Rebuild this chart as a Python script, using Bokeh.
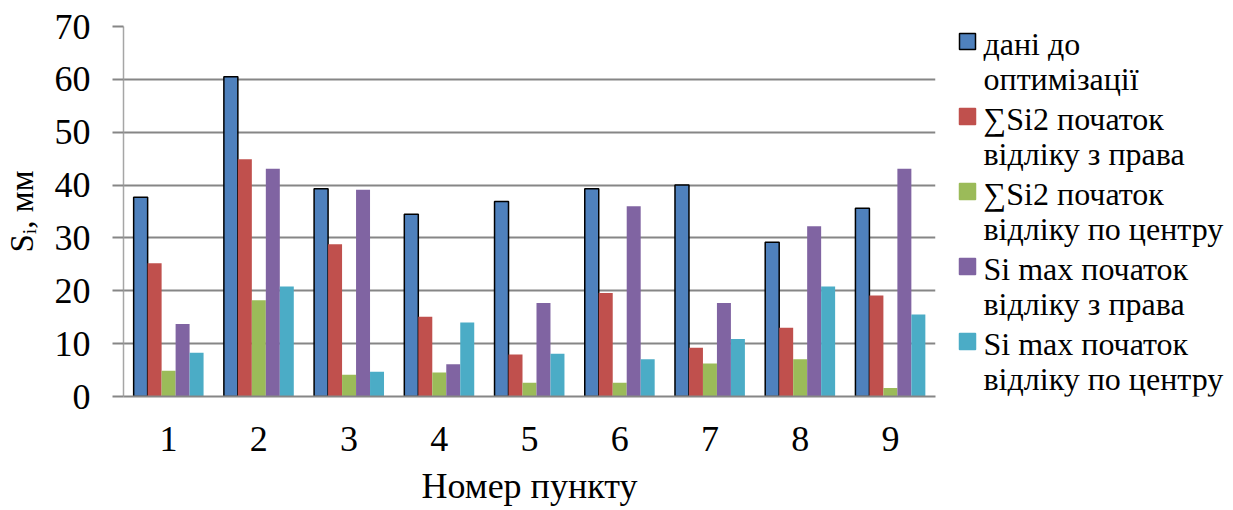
from bokeh.plotting import figure
from bokeh.models import Range1d, FixedTicker, ColumnDataSource
from bokeh.layouts import row
from bokeh.embed import file_html
from bokeh.resources import INLINE
from bokeh.core.properties import value

# ---- data ----
categories = ["1", "2", "3", "4", "5", "6", "7", "8", "9"]
before_opt = [37.7, 60.5, 39.3, 34.5, 36.9, 39.3, 40.0, 29.2, 35.6]
sum_right = [25.2, 44.9, 28.8, 15.1, 7.95, 19.6, 9.2, 13.0, 19.1]
sum_center = [4.86, 18.2, 4.1, 4.55, 2.6, 2.6, 6.25, 7.07, 1.6]
max_right = [13.7, 43.1, 39.1, 6.1, 17.7, 36.0, 17.7, 32.2, 43.1]
max_center = [8.27, 20.8, 4.67, 14.0, 8.1, 7.07, 10.9, 20.8, 15.5]
series_values = [before_opt, sum_right, sum_center, max_right, max_center]
series_labels = [
    ["дані до", "оптимізації"],
    ["∑Si2 початок", "відліку з права"],
    ["∑Si2 початок", "відліку по центру"],
    ["Si max початок", "відліку з права"],
    ["Si max початок", "відліку по центру"],
]
colors = ["#4F81BD", "#C0504D", "#9BBB59", "#8064A2", "#4BACC6"]
y_ticks = [0, 10, 20, 30, 40, 50, 60, 70]
x_title = "Номер пункту"
y_title = "Sᵢ, мм"

FONT = "Liberation Serif"
GRID = "#868686"

positions = [i + 1 for i in range(len(categories))]
bw = 0.155

p = figure(width=948, height=510, x_range=Range1d(0.5, 9.5), y_range=Range1d(0, 70),
           toolbar_location=None, output_backend="svg",
           min_border_left=123, min_border_right=13, min_border_top=26, min_border_bottom=114)
p.outline_line_color = None
p.xgrid.visible = False
p.ygrid.grid_line_color = GRID
p.ygrid.grid_line_width = 2

for k, (vals, col) in enumerate(zip(series_values, colors)):
    xs = [c + (k - 2) * bw for c in positions]
    src = ColumnDataSource(dict(x=xs, top=vals))
    if k == 0:
        p.vbar(x="x", top="top", width=bw, bottom=0, source=src, fill_color=col,
               line_color="black", line_width=1.5)
    else:
        p.vbar(x="x", top="top", width=bw, bottom=0, source=src, fill_color=col,
               line_color=None)

# y axis
p.yaxis.ticker = FixedTicker(ticks=y_ticks)
p.yaxis.minor_tick_line_color = None
p.yaxis.major_tick_out = 11
p.yaxis.major_tick_in = 0
p.yaxis.major_tick_line_color = GRID
p.yaxis.major_tick_line_width = 2
p.yaxis.axis_line_color = "#A6A6A6"
p.yaxis.axis_line_width = 1.5
p.yaxis.major_label_text_font = FONT
p.yaxis.major_label_text_font_size = "36px"
p.yaxis.major_label_text_color = "black"
p.yaxis.major_label_standoff = 22
p.yaxis.axis_label = y_title
p.yaxis.axis_label_text_font = FONT
p.yaxis.axis_label_text_font_size = "33px"
p.yaxis.axis_label_text_font_style = "normal"
p.yaxis.axis_label_text_color = "black"
p.yaxis.axis_label_standoff = 12

# x axis
p.xaxis.ticker = FixedTicker(ticks=positions)
p.xaxis.major_label_overrides = {pos: lab for pos, lab in zip(positions, categories)}
p.xaxis.minor_tick_line_color = None
p.xaxis.major_tick_line_color = None
p.xaxis.major_tick_out = 0
p.xaxis.major_tick_in = 0
p.xaxis.axis_line_color = GRID
p.xaxis.axis_line_width = 2
p.xaxis.major_label_text_font = FONT
p.xaxis.major_label_text_font_size = "36px"
p.xaxis.major_label_text_color = "black"
p.xaxis.major_label_standoff = 30
p.xaxis.axis_label = x_title
p.xaxis.axis_label_text_font = FONT
p.xaxis.axis_label_text_font_size = "36px"
p.xaxis.axis_label_text_font_style = "normal"
p.xaxis.axis_label_text_color = "black"
p.xaxis.axis_label_standoff = 12

# ---- legend panel (its frame is aligned with the main frame: page y 26..396) ----
L = figure(width=277, height=510, x_range=Range1d(0, 277), y_range=Range1d(396, 26),
           toolbar_location=None, output_backend="svg",
           x_axis_location=None, y_axis_location=None, min_border=0)
L.outline_line_color = None
L.grid.visible = False

step = 75
n = len(series_labels)
sw_y = [41 + i * step for i in range(n)]
L.rect(x=[19] * n, y=sw_y, width=16, height=16, fill_color=colors,
       line_color=["black"] + colors[1:], line_width=1.5)
tx, ty, tt = [], [], []
for i, lines in enumerate(series_labels):
    for j, t in enumerate(lines):
        tx.append(35)
        ty.append(43 + i * step + j * 35)
        tt.append(t)
L.text(x=tx, y=ty, text=tt, text_font=value(FONT), text_font_size="32px",
       text_baseline="alphabetic", text_align="left", text_color="black")

layout = row(p, L)
open("out.html", "w").write(file_html(layout, INLINE))
